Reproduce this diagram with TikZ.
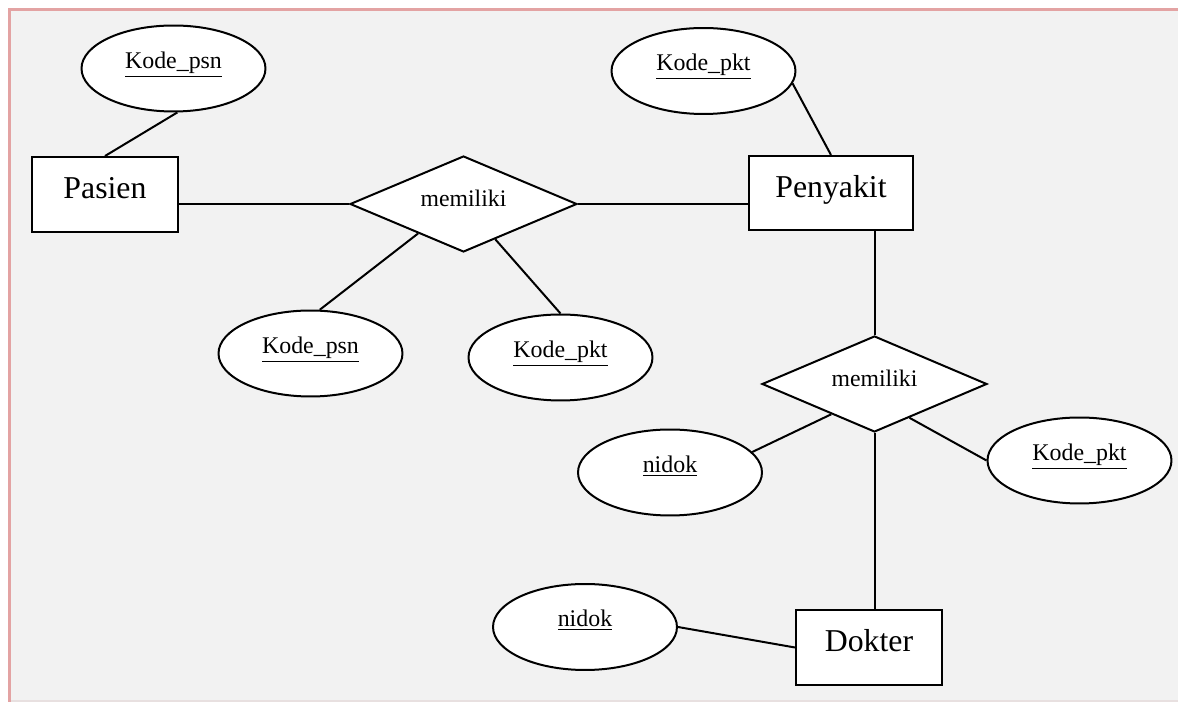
\documentclass[tikz,border=0pt]{standalone}
\usepackage{fontspec}
\setmainfont{Liberation Serif}
\usetikzlibrary{shapes.geometric}
\definecolor{bggray}{HTML}{F2F2F2}
\definecolor{framepink}{HTML}{E3A3A3}
\definecolor{framefaint}{HTML}{E8E0E0}

\begin{document}
\begin{tikzpicture}[x=0.02cm, y=-0.02cm,
    entity/.style={draw, fill=white, line width=0.04cm, minimum width=2.92cm, minimum height=1.5cm,
      inner sep=0, text height=0.45cm, text depth=0.27cm, font=\fontsize{18.1}{20}\selectfont},
    attr/.style={ellipse, draw, fill=white, line width=0.04cm, minimum width=3.68cm, minimum height=1.72cm,
      inner sep=0, text height=0.3cm, text depth=0.3cm, font=\fontsize{13.6}{16}\selectfont},
    relation/.style={diamond, draw, fill=white, line width=0.04cm, aspect=2.4, minimum width=4.54cm,
      minimum height=1.92cm, inner sep=0, text height=0.3cm, text depth=0.18cm,
      font=\fontsize{13.5}{16}\selectfont},
    link/.style={line width=0.04cm}]
    \useasboundingbox (0,0) rectangle (1178,702);

    % background and frame
    \fill[bggray] (10,9.5) rectangle (1178,701);
    \draw[framefaint, line width=0.04cm] (10,701) -- (1178,701);
    \draw[framepink, line width=0.06cm] (9.5,702) -- (9.5,9.5) -- (1178,9.5);

    % entities
    \node[entity] at (105,194.5) (pasien) {Pasien};
    \node[entity, minimum width=3.28cm, minimum height=1.48cm] at (831,193) (penyakit) {Penyakit};
    \node[entity] at (869,647.5) (dokter) {Dokter};

    % relations
    \node[relation] at (463.5,204) (rel1) {memiliki};
    \node[relation, minimum width=4.5cm] at (874.5,384) (rel2) {memiliki};

    % attributes
    \node[attr] at (173.5,68.5) (kpsn1) {\underline{Kode\_psn}};
    \node[attr] at (703.5,71) (kpkt1) {\underline{Kode\_pkt}};
    \node[attr] at (310.5,353.5) (kpsn2) {\underline{Kode\_psn}};
    \node[attr] at (560.5,357.5) (kpkt2) {\underline{Kode\_pkt}};
    \node[attr] at (670,472.5) (nidok1) {\underline{nidok}};
    \node[attr] at (1079.5,460.5) (kpkt3) {\underline{Kode\_pkt}};
    \node[attr] at (585,627) (nidok2) {\underline{nidok}};

    % connections
    \draw[link] (kpsn1.-85) -- (pasien.north);
    \draw[link] (kpkt1.-8) -- (penyakit.north);
    \draw[link] (rel1.west) -- (rel1.west -| pasien.east);
    \draw[link] (rel1.east) -- (rel1.east -| penyakit.west);
    \draw[link] (rel1.-147) -- (kpsn2.78);
    \draw[link] (rel1.-48) -- (kpkt2.north);
    \draw[link] (rel2.north) -- (rel2.north |- penyakit.south);
    \draw[link] (rel2.-145) -- (nidok1.14);
    \draw[link] (rel2.-44) -- (kpkt3.west);
    \draw[link] (rel2.south) -- (rel2.south |- dokter.north);
    \draw[link] (nidok2.east) -- (dokter.west);
  \end{tikzpicture}
\end{document}
